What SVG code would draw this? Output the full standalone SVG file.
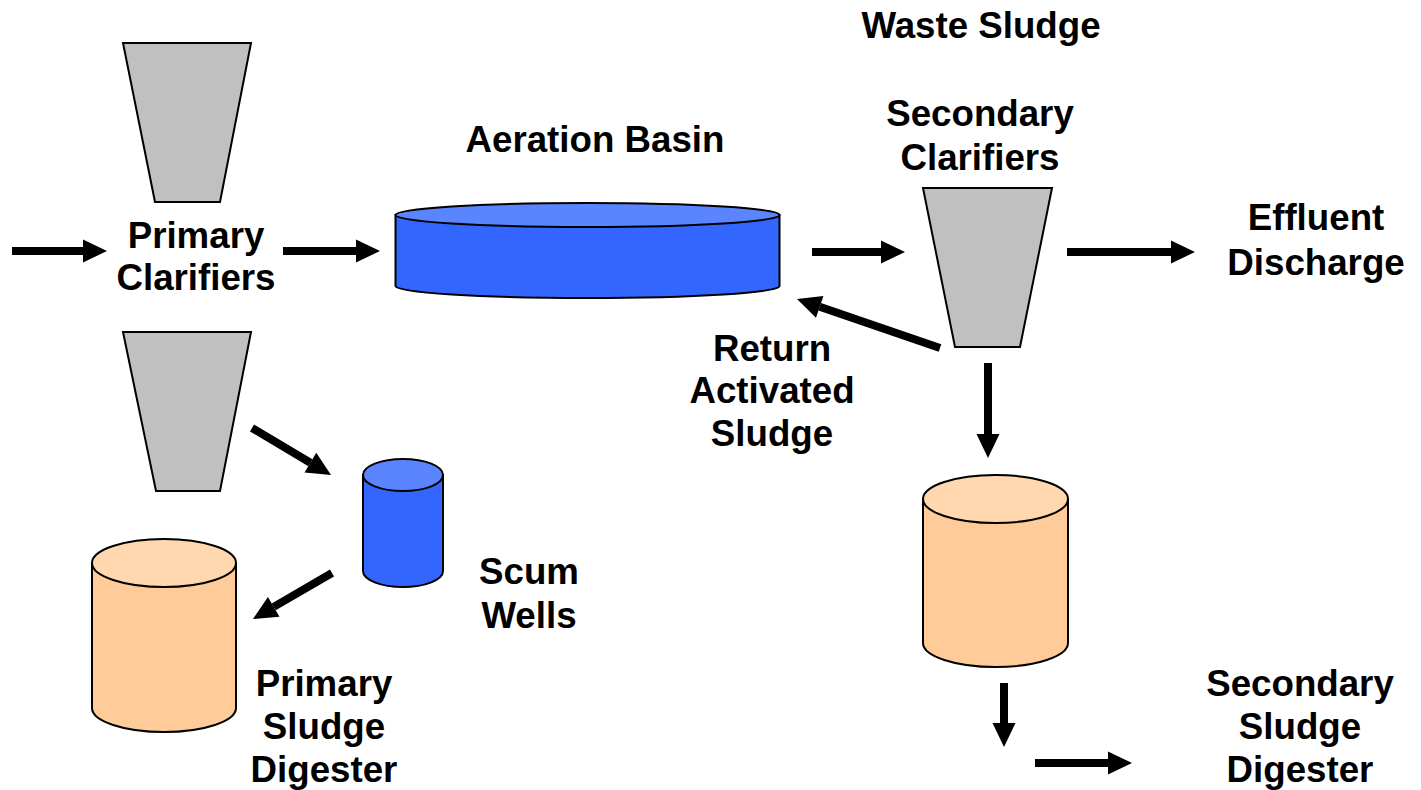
<svg xmlns="http://www.w3.org/2000/svg" width="1421" height="790" viewBox="0 0 1421 790">
<style>
text{font-family:"Liberation Sans",Arial,sans-serif;font-weight:bold;font-size:36.7px;fill:#000;text-anchor:middle}
.clar{fill:#C0C0C0;stroke:#000;stroke-width:2}
.bbody{fill:#3366FF;stroke:#000;stroke-width:2}
.btop{fill:#5B85FF;stroke:#000;stroke-width:2}
.obody{fill:#FFCC99;stroke:#000;stroke-width:2}
.otop{fill:#FFD8AF;stroke:#000;stroke-width:2}
.arr{stroke:#000;stroke-width:8;fill:none;marker-end:url(#ah)}
</style>
<defs>
<marker id="ah" markerUnits="userSpaceOnUse" markerWidth="24" markerHeight="23" refX="0" refY="11.5" orient="auto" overflow="visible">
<path d="M0,0 L24,11.5 L0,23 Z" fill="#000"/>
</marker>
</defs>
<rect width="1421" height="790" fill="#fff"/>

<g id="primary-clarifier-top">
<polygon class="clar" points="123,43 251,43 220,202 155,202"/>
</g>
<g id="primary-clarifier-label">
<text x="196" y="248">Primary</text>
<text x="196" y="290">Clarifiers</text>
</g>
<g id="primary-clarifier-bottom">
<polygon class="clar" points="123,332 251,332 220,491 156,491"/>
</g>

<g id="aeration-basin">
<path class="bbody" d="M395.5,215 L395.5,286 A192,12 0 0 0 779.5,286 L779.5,215 Z"/>
<ellipse class="btop" cx="587.5" cy="215" rx="192" ry="12"/>
<text x="595" y="152">Aeration Basin</text>
</g>

<g id="waste-sludge">
<text x="981" y="38">Waste Sludge</text>
</g>

<g id="secondary-clarifier">
<text x="980" y="126">Secondary</text>
<text x="980" y="170">Clarifiers</text>
<polygon class="clar" points="923,188 1052,188 1020,347 955,347"/>
</g>

<g id="effluent-discharge">
<text x="1316" y="230">Effluent</text>
<text x="1316" y="275">Discharge</text>
</g>

<g id="return-activated-sludge">
<text x="772" y="361">Return</text>
<text x="772" y="403">Activated</text>
<text x="772" y="446">Sludge</text>
</g>

<g id="scum-wells">
<path class="bbody" d="M363,475 L363,571 A40,16 0 0 0 443,571 L443,475 Z"/>
<ellipse class="btop" cx="403" cy="475" rx="40" ry="16"/>
<text x="529" y="584">Scum</text>
<text x="529" y="628">Wells</text>
</g>

<g id="primary-sludge-digester">
<path class="obody" d="M92,563 L92,708 A72,24 0 0 0 236,708 L236,563 Z"/>
<ellipse class="otop" cx="164" cy="563" rx="72" ry="24"/>
<text x="324" y="696">Primary</text>
<text x="324" y="739">Sludge</text>
<text x="324" y="782">Digester</text>
</g>

<g id="secondary-sludge-digester">
<path class="obody" d="M923,499 L923,643 A72.5,24 0 0 0 1068,643 L1068,499 Z"/>
<ellipse class="otop" cx="995.5" cy="499" rx="72.5" ry="24"/>
<text x="1300" y="696">Secondary</text>
<text x="1300" y="739">Sludge</text>
<text x="1300" y="782">Digester</text>
</g>

<g id="connectors">
<line class="arr" x1="12" y1="251" x2="83" y2="251"/>
<line class="arr" x1="283" y1="251" x2="356" y2="251"/>
<line class="arr" x1="812" y1="252" x2="881" y2="252"/>
<line class="arr" x1="1067" y1="252" x2="1171" y2="252"/>
<line class="arr" x1="940" y1="348" x2="819.7" y2="306.8"/>
<line class="arr" x1="988" y1="363" x2="988" y2="434"/>
<line class="arr" x1="252" y1="428" x2="310.4" y2="462.7"/>
<line class="arr" x1="332" y1="573" x2="273.7" y2="606.9"/>
<line class="arr" x1="1004" y1="683" x2="1004" y2="723"/>
<line class="arr" x1="1035" y1="763" x2="1108" y2="763"/>
</g>
</svg>
